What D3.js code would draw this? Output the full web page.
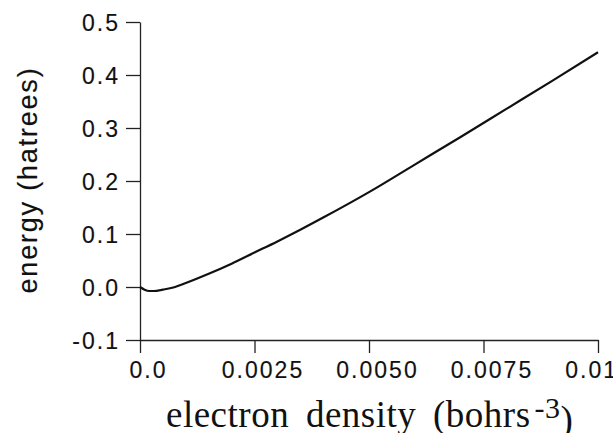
<!DOCTYPE html>
<html>
<head>
<meta charset="utf-8">
<script src="https://cdn.jsdelivr.net/npm/d3@7"></script>
<style>
  body { margin: 0; background: #fff; }
  .axis path, .axis line { stroke: #222; stroke-width: 1.3; }
  .axis text { font-family: "Liberation Sans", Arial, sans-serif; font-size: 23px;
               letter-spacing: 2px; fill: #111; stroke: #111; stroke-width: 0.15; }
  .line { fill: none; stroke: #111; stroke-width: 2.2; }
</style>
</head>
<body>
<div id="chart"></div>
<script>
// data
var density = [0, 0.0001, 0.0002, 0.0003, 0.0005, 0.00075, 0.001, 0.0015, 0.002, 0.0025,
               0.003, 0.0035, 0.004, 0.005, 0.006, 0.007, 0.008, 0.009, 0.01];
var energy = [0, -0.005, -0.0075, -0.0075, -0.005, -0.0005, 0.0075, 0.025, 0.044, 0.065,
              0.086, 0.108, 0.131, 0.179, 0.231, 0.283, 0.336, 0.389, 0.443];

var xTicks = [0, 0.0025, 0.005, 0.0075, 0.01];
var xTickLabels = ["0.0", "0.0025", "0.0050", "0.0075", "0.0100"];
var yTicks = [-0.1, 0, 0.1, 0.2, 0.3, 0.4, 0.5];
var yTickLabels = ["-0.1", "0.0", "0.1", "0.2", "0.3", "0.4", "0.5"];

// set the dimensions and margins of the graph
var margin = {top: 22, right: 15, bottom: 93, left: 140},
    width = 613 - margin.left - margin.right,
    height = 433 - margin.top - margin.bottom;

// set the ranges
var x = d3.scaleLinear().domain([0, 0.01]).range([0, width]);
var y = d3.scaleLinear().domain([-0.1, 0.5]).range([height, 0]);

var root = d3.select("#chart").append("svg")
    .attr("width", 613)
    .attr("height", 433)
    .style("overflow", "hidden");

var svg = root.append("g")
    .attr("transform", "translate(" + margin.left + "," + margin.top + ")");

// X axis
var gx = svg.append("g")
    .attr("class", "axis")
    .attr("transform", "translate(0," + height + ")")
    .call(d3.axisBottom(x)
      .tickValues(xTicks)
      .tickSize(13)
      .tickSizeOuter(0)
      .tickFormat(function(d, i) { return xTickLabels[i]; }));
gx.selectAll("text").attr("y", 38).attr("dy", 0).attr("dx", 8);

// Y axis
var gy = svg.append("g")
    .attr("class", "axis")
    .call(d3.axisLeft(y)
      .tickValues(yTicks)
      .tickSize(14)
      .tickSizeOuter(0)
      .tickFormat(function(d, i) { return yTickLabels[i]; }));
gy.selectAll("text").attr("x", -20).attr("dy", "0.35em");

// the curve
var valueline = d3.line()
    .x(function(d) { return x(d[0]); })
    .y(function(d) { return y(d[1]); })
    .curve(d3.curveMonotoneX);

svg.append("path")
    .datum(density.map(function(d, i) { return [d, energy[i]]; }))
    .attr("class", "line")
    .attr("d", valueline);

// Y axis title
root.append("text")
    .attr("transform", "translate(37,180) rotate(-90)")
    .style("text-anchor", "middle")
    .style("font-family", "'Liberation Sans', Arial, sans-serif")
    .style("font-size", "27px")
    .style("letter-spacing", "1.8px")
    .style("fill", "#111")
    .style("stroke", "#111")
    .style("stroke-width", 0.15)
    .text("energy (hatrees)");

// X axis title
var xt = root.append("text")
    .attr("x", 166)
    .attr("y", 427)
    .style("font-family", "'Liberation Serif', 'Times New Roman', serif")
    .style("font-size", "37px")
    .style("word-spacing", "7px")
    .style("letter-spacing", "0.5px")
    .style("fill", "#111");
xt.append("tspan").text("electron density (bohrs");
xt.append("tspan").attr("dx", 4).attr("dy", -9).style("font-size", "30px").text("-3");
xt.append("tspan").attr("dy", 14).text(")");
</script>
</body>
</html>
